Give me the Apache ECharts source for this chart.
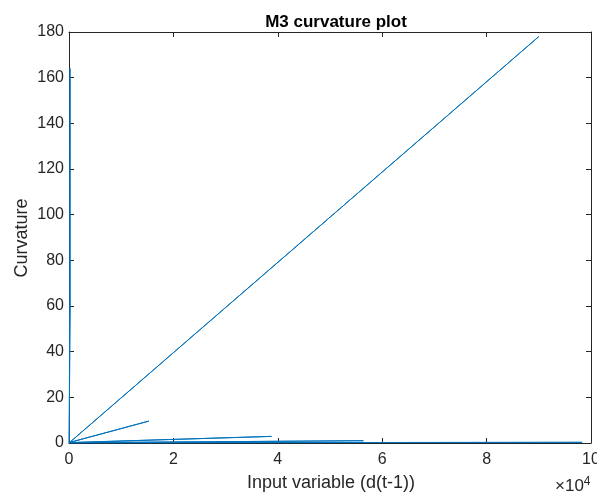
<!DOCTYPE html>
<html>
<head>
    <meta charset="utf-8">
    <title>M3 curvature plot</title>
    <script src="https://cdn.jsdelivr.net/npm/echarts@6/dist/echarts.min.js"></script>
</head>
<body style="margin:0">
<div id="main" style="width:597px;height:497px;"></div>
<script type="text/javascript">
// data, in drawing order (x = input, y = curvature)
var inputValues = [0, 90000, 150, 15300, 120, 38800, 100, 56400, 80, 98300, 60, 200, 250, 0];
var curvatureValues = [0, 178, 0.3, 9.6, 0.2, 2.9, 0.15, 1.0, 0.1, 0.3, 0.05, 164, 60, 0];
var xTicks = [0, 2, 4, 6, 8, 10];
var yTicks = [0, 20, 40, 60, 80, 100, 120, 140, 160, 180];

var points = [];
for (var i = 0; i < inputValues.length; i++) {
    points.push([inputValues[i], curvatureValues[i]]);
}

var font = 'Liberation Sans';
var axisGray = '#262626';

var myChart = echarts.init(document.getElementById('main'));

function xAxisCfg(pos, showLabel) {
    return {
        type: 'value', position: pos,
        min: 0, max: xTicks[xTicks.length - 1] * 10000, interval: 20000,
        axisLine: {show: true, onZero: false, lineStyle: {color: axisGray, width: 1}},
        axisTick: {show: true, inside: true, length: 5, lineStyle: {color: axisGray}},
        splitLine: {show: false},
        axisLabel: {show: showLabel, color: axisGray, fontFamily: font, fontSize: 16, margin: 9,
            formatter: function (v) { return String(v / 10000); }}
    };
}
function yAxisCfg(pos, showLabel) {
    return {
        type: 'value', position: pos,
        min: 0, max: yTicks[yTicks.length - 1], interval: 20,
        axisLine: {show: true, onZero: false, lineStyle: {color: axisGray, width: 1}},
        axisTick: {show: true, inside: true, length: 5, lineStyle: {color: axisGray}},
        splitLine: {show: false},
        axisLabel: {show: showLabel, color: axisGray, fontFamily: font, fontSize: 16, margin: 5}
    };
}

var option = {
    animation: false,
    backgroundColor: '#ffffff',
    title: {
        text: 'M3 curvature plot',
        left: 331, top: 9, textAlign: 'center',
        textStyle: {fontFamily: font, fontSize: 17, fontWeight: 'bold', color: '#000'}
    },
    grid: {left: 69, top: 32, right: 6, bottom: 54, containLabel: false, outerBoundsMode: 'none'},
    xAxis: [xAxisCfg('bottom', true), xAxisCfg('top', false)],
    yAxis: [yAxisCfg('left', true), yAxisCfg('right', false)],
    graphic: [
        {type: 'text', x: 331, y: 483,
            style: {text: 'Input variable (d(t-1))', fontFamily: font, fontSize: 18, fill: axisGray,
                align: 'center', verticalAlign: 'middle'}},
        {type: 'text', x: 22, y: 238, rotation: Math.PI / 2,
            style: {text: 'Curvature', fontFamily: font, fontSize: 18, fill: axisGray,
                align: 'center', verticalAlign: 'middle'}},
        {type: 'text', left: 555, top: 476,
            style: {text: '×10{s|4}', fontFamily: font, fontSize: 17, fill: axisGray,
                rich: {s: {fontSize: 12, verticalAlign: 'top', padding: [0, 0, 8, 0], fontFamily: font, fill: axisGray}}}}
    ],
    series: [{
        type: 'line',
        data: points,
        symbol: 'none',
        lineStyle: {color: '#0072BD', width: 1},
        xAxisIndex: 0, yAxisIndex: 0
    }]
};

myChart.setOption(option);
</script>
</body>
</html>
